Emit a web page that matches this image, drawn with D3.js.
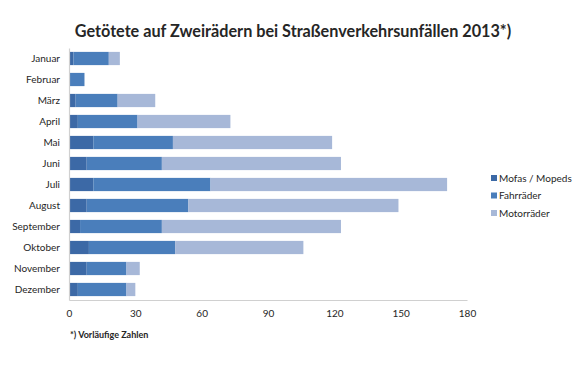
<!DOCTYPE html>
<html>
<head>
<meta charset="utf-8">
<script src="https://cdn.jsdelivr.net/npm/d3@7"></script>
<style>
  body { margin: 0; background: #fff; }
  text { font-family: Lato, "Open Sans", sans-serif; fill: #262626; }
</style>
</head>
<body>
<div id="chart"></div>
<script>
var months = ["Januar", "Februar", "März", "April", "Mai", "Juni", "Juli",
              "August", "September", "Oktober", "November", "Dezember"];
var mofas = [2, 0, 3, 4, 11, 8, 11, 8, 5, 9, 8, 4];
var fahrraeder = [16, 7, 19, 27, 36, 34, 53, 46, 37, 39, 18, 22];
var motorraeder = [5, 0, 17, 42, 72, 81, 107, 95, 81, 58, 6, 4];
var seriesNames = ["Mofas / Mopeds", "Fahrräder", "Motorräder"];
var colors = ["#3c69a6", "#4a7ebb", "#a7b8d8"];
var xTicks = [0, 30, 60, 90, 120, 150, 180];

var W = 578, H = 386;
var plot = { left: 69, right: 467, top: 48, bottom: 300 };

var svg = d3.select("#chart").append("svg")
    .attr("width", W).attr("height", H);

var rows = months.map(function (m, i) {
    return { month: m, s0: mofas[i], s1: fahrraeder[i], s2: motorraeder[i] };
});
var stack = d3.stack().keys(["s0", "s1", "s2"])(rows);

var x = d3.scaleLinear().domain([0, 180]).range([plot.left, plot.right]);
var y = d3.scaleBand().domain(months).range([plot.top, plot.bottom]).paddingInner(0.37).paddingOuter(0.185);

// bars
svg.append("g").selectAll("g")
    .data(stack)
    .enter().append("g")
    .attr("fill", function (d, i) { return colors[i]; })
    .selectAll("rect")
    .data(function (d) { return d; })
    .enter().append("rect")
    .attr("x", function (d) { return x(d[0]); })
    .attr("width", function (d) { return x(d[1]) - x(d[0]); })
    .attr("y", function (d) { return y(d.data.month); })
    .attr("height", y.bandwidth());

// axes
var xAxis = svg.append("g")
    .attr("transform", "translate(0," + plot.bottom + ")")
    .call(d3.axisBottom(x).tickValues(xTicks).tickSize(0).tickPadding(10));
xAxis.select(".domain").attr("stroke", "#d0d0d0").attr("stroke-width", 1.2);
xAxis.selectAll("text").style("font-size", "10px").attr("fill", "#262626");

var yAxis = svg.append("g")
    .attr("transform", "translate(" + plot.left + ",0)")
    .call(d3.axisLeft(y).tickSize(0).tickPadding(9));
yAxis.select(".domain").attr("stroke", "#d0d0d0").attr("stroke-width", 1.2);
yAxis.selectAll("text").style("font-size", "10px").attr("fill", "#262626");

// title
var title = svg.append("text")
    .attr("x", 293).attr("y", 37)
    .attr("text-anchor", "middle")
    .style("font-size", "19px").style("font-weight", "bold")
    .attr("fill", "#111")
    .text("Getötete auf Zweirädern bei Straßenverkehrsunfällen 2013*)");
var tw = title.node().getComputedTextLength();
title.style("font-size", (19 * 437 / tw).toFixed(2) + "px");

// legend
var legend = svg.append("g").attr("transform", "translate(491,178)");
seriesNames.forEach(function (name, i) {
    var g = legend.append("g").attr("transform", "translate(0," + (i * 17.5) + ")");
    g.append("rect").attr("x", 0).attr("y", -3).attr("width", 6).attr("height", 6).attr("fill", colors[i]);
    g.append("text").attr("x", 8).attr("y", 0).attr("dy", "0.35em")
        .style("font-size", "10px").text(name);
});

// footnote
svg.append("text")
    .attr("x", 70).attr("y", 338)
    .style("font-size", "9px").style("font-weight", "bold")
    .attr("fill", "#111")
    .text("*) Vorläufige Zahlen");
</script>
</body>
</html>
